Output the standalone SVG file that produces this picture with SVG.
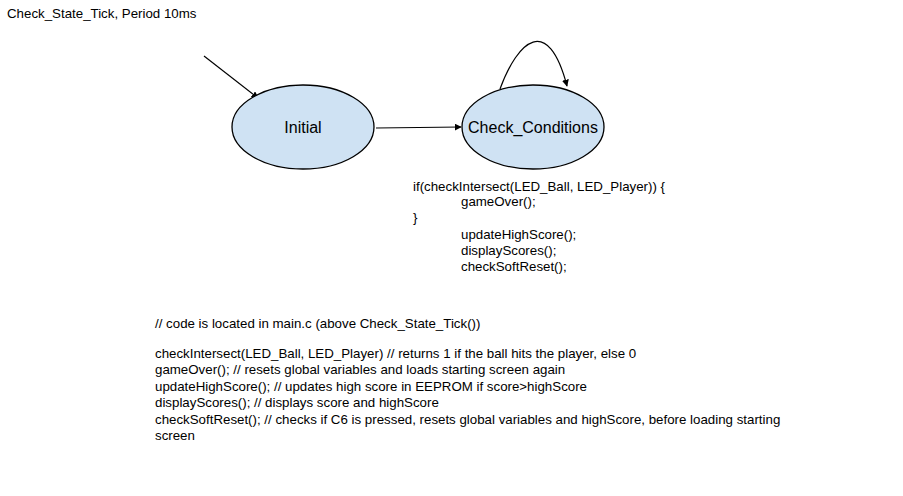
<svg xmlns="http://www.w3.org/2000/svg" width="903" height="496" viewBox="0 0 903 496">
<style>
text{font-family:"Liberation Sans",Arial,sans-serif;fill:#000}
.t{font-size:13.3px}
.n{font-size:16px;text-anchor:middle}
.st{fill:#cfe2f3;stroke:#000;stroke-width:1.3}
.c{fill:none;stroke:#000;stroke-width:1.2}
</style>
<defs>
<marker id="a" viewBox="0 0 10 10" refX="9" refY="5" markerWidth="7" markerHeight="7" orient="auto" markerUnits="userSpaceOnUse"><path d="M0,0L10,5L0,10z" fill="#000"/></marker>
</defs>
<rect width="903" height="496" fill="#fff"/>
<text class="t" x="7" y="18">Check_State_Tick, Period 10ms</text>
<g id="connectors">
<path class="c" d="M204,56L258,98" marker-end="url(#a)"/>
<path class="c" d="M376,128L461,127" marker-end="url(#a)"/>
<path class="c" d="M500,89C518,40 548,14 567,86" marker-end="url(#a)"/>
</g>
<g id="initial">
<ellipse class="st" cx="303" cy="127" rx="71" ry="42"/>
<text class="n" x="303" y="133">Initial</text>
</g>
<g id="check_conditions">
<ellipse class="st" cx="533" cy="127" rx="71" ry="42"/>
<text class="n" x="533" y="133">Check_Conditions</text>
</g>
<g id="code">
<text class="t" x="413" y="191">if(checkIntersect(LED_Ball, LED_Player)) {</text>
<text class="t" x="461" y="206">gameOver();</text>
<text class="t" x="413" y="222">}</text>
<text class="t" x="461" y="239">updateHighScore();</text>
<text class="t" x="461" y="255">displayScores();</text>
<text class="t" x="461" y="271">checkSoftReset();</text>
</g>
<g id="notes">
<text class="t" x="155" y="328">// code is located in main.c (above Check_State_Tick())</text>
<text class="t" x="155" y="358">checkIntersect(LED_Ball, LED_Player) // returns 1 if the ball hits the player, else 0</text>
<text class="t" x="155" y="374">gameOver(); // resets global variables and loads starting screen again</text>
<text class="t" x="155" y="391">updateHighScore(); // updates high score in EEPROM if score&gt;highScore</text>
<text class="t" x="155" y="407">displayScores(); // displays score and highScore</text>
<text class="t" x="155" y="424">checkSoftReset(); // checks if C6 is pressed, resets global variables and highScore, before loading starting</text>
<text class="t" x="155" y="440">screen</text>
</g>
</svg>
